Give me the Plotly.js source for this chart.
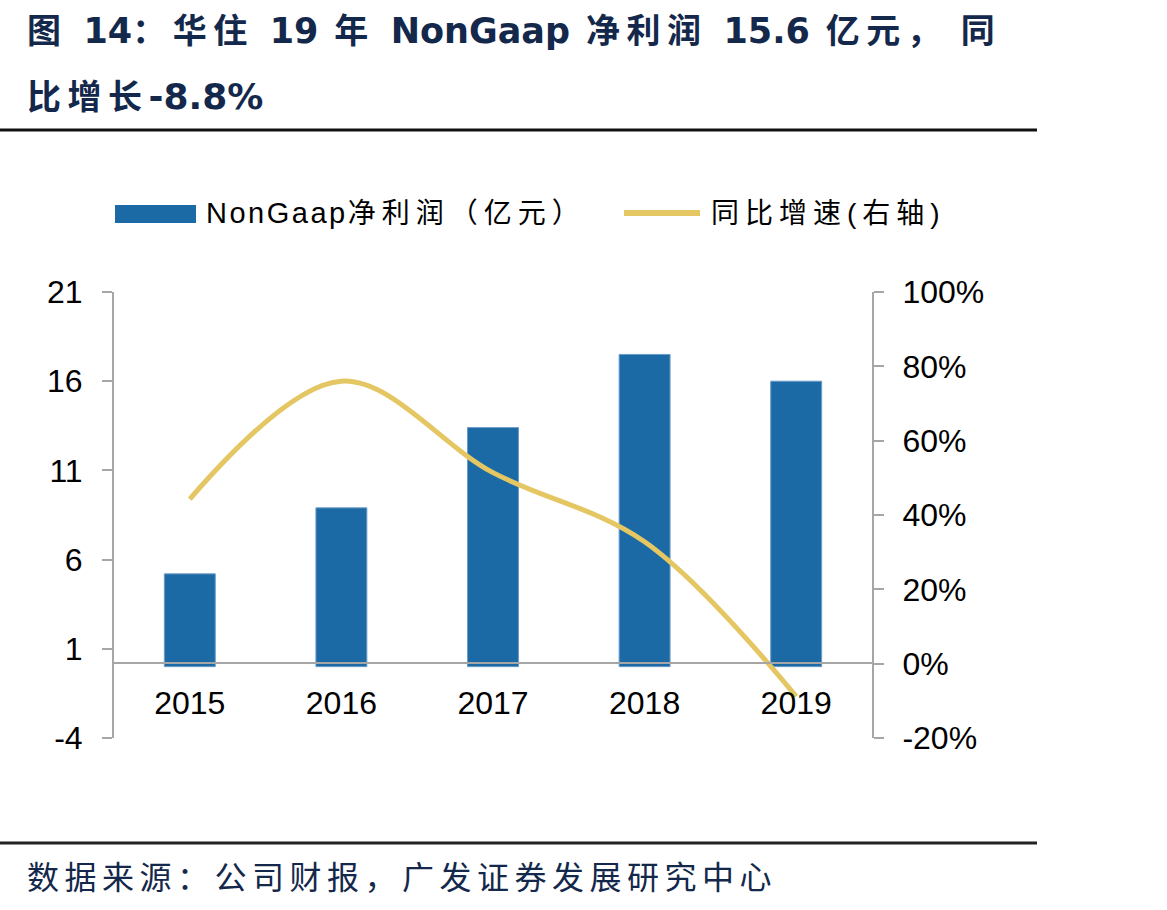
<!DOCTYPE html>
<html>
<head>
<meta charset="utf-8">
<script src="https://cdn.plot.ly/plotly-3.0.1.min.js"></script>
<style>
  html, body { margin: 0; padding: 0; background: #ffffff; }
  #chart { width: 1167px; height: 910px; }
</style>
</head>
<body>
<div id="chart"></div>
<script>
// ---- data ----
const years = ['2015', '2016', '2017', '2018', '2019'];
const profit = [5.2, 8.9, 13.4, 17.5, 16.0];        // NonGaap净利润（亿元）
const growth = [44.3, 76.0, 51.4, 32.8, -8.8];       // 同比增速 (%)
const leftTicks = [-4, 1, 6, 11, 16, 21];
const leftTickText = ['-4', '1', '6', '11', '16', '21'];
const rightTicks = [-20, 0, 20, 40, 60, 80, 100];
const rightTickText = ['-20%', '0%', '20%', '40%', '60%', '80%', '100%'];
const titleLine1 = '图 14：华住 19 年 NonGaap 净利润 15.6 亿元，同';
const titleLine2 = '比增长-8.8%';
const barName = 'NonGaap净利润（亿元）';
const lineName = '同比增速(右轴)';
const sourceText = '数据来源：公司财报，广发证券发展研究中心';

// ---- layout geometry ----
const W = 1167, H = 910;
const L = 114, R = 872, T = 292, B = 738;
const px = x => (x - L) / (R - L);
const py = y => (B - y) / (B - T);

const FONT = 'Liberation Sans, Arial, Noto Sans CJK SC, sans-serif';
const NAVY = '#13284B';
const BLUE = '#1B6AA5';
const GOLD = '#E4C662';
const AXIS = '#A6A6A6';

// split text into latin runs and other runs, styling each
function styled(s, o) {
  const parts = s.split(/([A-Za-z0-9.%\-]+|，)/);
  return parts.filter(p => p.length).map(p => {
    if (/^[A-Za-z0-9.%\-]+$/.test(p)) {
      let st = 'letter-spacing:' + (o.latinSpacing || 0) + 'px';
      if (o.latinFamily) st += ';font-family:' + o.latinFamily;
      if (o.latinSize) st += ';font-size:' + o.latinSize + 'px';
      return '<span style="' + st + '">' + p + '</span>';
    }
    const ls = (p === '，' && o.commaSpacing) ? o.commaSpacing : o.otherSpacing;
    return '<span style="letter-spacing:' + ls + 'px">' + p + '</span>';
  }).join('');
}

const traces = [
  {
    type: 'bar', x: years, y: profit, name: barName,
    marker: { color: BLUE, line: { color: '#6C9CC8', width: 1 } },
    hoverinfo: 'skip', showlegend: false
  },
  {
    type: 'scatter', mode: 'lines', x: years, y: growth, name: lineName, yaxis: 'y2',
    line: { color: GOLD, width: 5, shape: 'spline', smoothing: 1 },
    hoverinfo: 'skip', showlegend: false
  }
];

const titleOpts = { otherSpacing: 6.5, commaSpacing: 20, latinFamily: 'DejaVu Sans', latinSize: 35, latinSpacing: 0 };

const layout = {
  width: W, height: H, autosize: false,
  margin: { l: L, r: W - R, t: T, b: H - B, pad: 0 },
  paper_bgcolor: '#ffffff', plot_bgcolor: '#ffffff',
  font: { family: FONT, color: '#000000' },
  bargap: 0.664,
  showlegend: false,
  title: {
    text: '<b>' + styled(titleLine1, titleOpts) + '</b>',
    font: { family: FONT, size: 34, color: NAVY },
    xref: 'container', x: 27 / W, xanchor: 'left',
    yref: 'container', y: 1 - 31 / H, yanchor: 'middle'
  },
  xaxis: {
    type: 'category', range: [-0.5, 4.5],
    anchor: 'free', position: py(663),
    showline: true, linecolor: AXIS, linewidth: 2,
    ticks: '', showgrid: false, zeroline: false,
    tickfont: { family: FONT, size: 32, color: '#000000' },
    ticklabelstandoff: 12
  },
  yaxis: {
    range: [-4, 21], tickvals: leftTicks, ticktext: leftTickText,
    showline: true, linecolor: AXIS, linewidth: 2,
    ticks: 'outside', ticklen: 10, tickwidth: 2, tickcolor: AXIS,
    showgrid: false, zeroline: false,
    tickfont: { family: FONT, size: 32, color: '#000000' },
    ticklabelstandoff: 13
  },
  yaxis2: {
    overlaying: 'y', side: 'right', anchor: 'x',
    range: [-20, 100], tickvals: rightTicks, ticktext: rightTickText,
    showline: true, linecolor: AXIS, linewidth: 2,
    ticks: 'outside', ticklen: 10, tickwidth: 2, tickcolor: AXIS,
    showgrid: false, zeroline: false,
    tickfont: { family: FONT, size: 32, color: '#000000' },
    ticklabelstandoff: 12
  },
  shapes: [
    // top rule
    { type: 'line', xref: 'paper', yref: 'paper', x0: px(0), x1: px(1037), y0: py(130), y1: py(130),
      line: { color: '#111111', width: 3 } },
    // bottom rule
    { type: 'line', xref: 'paper', yref: 'paper', x0: px(0), x1: px(1037), y0: py(843), y1: py(843),
      line: { color: '#222222', width: 3 } },
    // legend symbols
    { type: 'rect', xref: 'paper', yref: 'paper', x0: px(115), x1: px(196), y0: py(223), y1: py(205),
      fillcolor: BLUE, line: { width: 0 } },
    { type: 'line', xref: 'paper', yref: 'paper', x0: px(624), x1: px(700), y0: py(213), y1: py(213),
      line: { color: GOLD, width: 6 } }
  ],
  annotations: [
    { text: '<b>' + styled(titleLine2, { otherSpacing: 6.5, latinFamily: 'DejaVu Sans', latinSize: 36 }) + '</b>',
      xref: 'paper', yref: 'paper',
      x: px(25), y: py(97), xanchor: 'left', yanchor: 'middle', showarrow: false,
      font: { family: FONT, size: 34, color: NAVY } },
    { text: styled(barName, { otherSpacing: 6, latinSize: 29, latinSpacing: 2.5 }), xref: 'paper', yref: 'paper',
      x: px(204), y: py(213), xanchor: 'left', yanchor: 'middle', showarrow: false,
      font: { family: FONT, size: 28, color: '#000000' } },
    { text: styled(lineName, { otherSpacing: 6 }), xref: 'paper', yref: 'paper',
      x: px(709), y: py(213), xanchor: 'left', yanchor: 'middle', showarrow: false,
      font: { family: FONT, size: 28, color: '#000000' } },
    { text: '<span style="letter-spacing:5.5px">' + sourceText + '</span>', xref: 'paper', yref: 'paper',
      x: px(25), y: py(878), xanchor: 'left', yanchor: 'middle', showarrow: false,
      font: { family: FONT, size: 32, color: NAVY } }
  ]
};

Plotly.newPlot('chart', traces, layout, { displayModeBar: false, staticPlot: true });
</script>
</body>
</html>
